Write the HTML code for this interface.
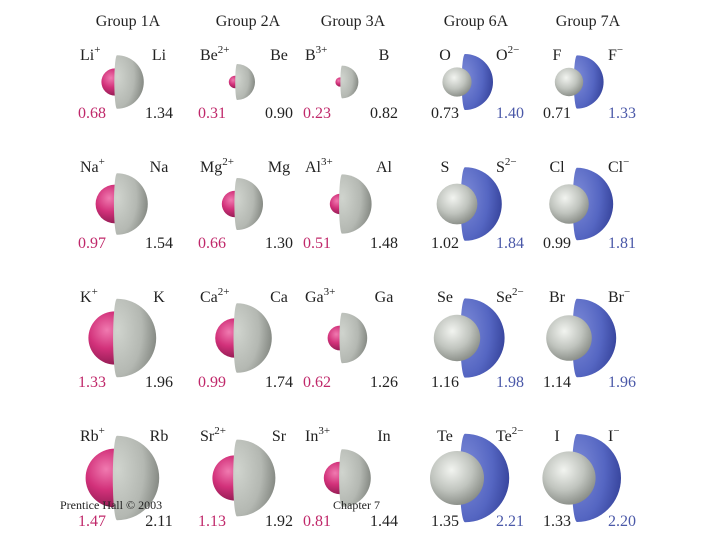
<!DOCTYPE html>
<html><head><meta charset="utf-8"><style>
body{margin:0;background:#fff}
svg{display:block;font-family:"Liberation Serif",serif}
</style></head><body>
<svg id="c" width="720" height="540">
<defs>
<radialGradient id="gMag" cx="0.35" cy="0.35" r="0.7"><stop offset="0" stop-color="#f07ab0"/><stop offset="0.5" stop-color="#d2317a"/><stop offset="1" stop-color="#8e1a50"/></radialGradient>
<radialGradient id="gGray" cx="0.4" cy="0.35" r="0.7"><stop offset="0" stop-color="#f2f4f0"/><stop offset="0.55" stop-color="#c0c4be"/><stop offset="1" stop-color="#858983"/></radialGradient>
<radialGradient id="gBlue" cx="0.1" cy="0.4" r="0.95"><stop offset="0" stop-color="#7d8bd8"/><stop offset="0.6" stop-color="#5566c2"/><stop offset="1" stop-color="#35429a"/></radialGradient>
<radialGradient id="gShell" cx="0.1" cy="0.4" r="0.95"><stop offset="0" stop-color="#d0d4ce"/><stop offset="0.6" stop-color="#b4b8b2"/><stop offset="1" stop-color="#80847e"/></radialGradient>
</defs>
</svg>
<script>
const groups=["Group 1A","Group 2A","Group 3A","Group 6A","Group 7A"];
const atoms=[["Li","Na","K","Rb"],["Be","Mg","Ca","Sr"],["B","Al","Ga","In"],["O","S","Se","Te"],["F","Cl","Br","I"]];
const charges=["+","2+","3+","2−","−"];
const atomRadii=[[1.34,1.54,1.96,2.11],[0.90,1.30,1.74,1.92],[0.82,1.48,1.26,1.44],[0.73,1.02,1.16,1.35],[0.71,0.99,1.14,1.33]];
const ionRadii=[[0.68,0.97,1.33,1.47],[0.31,0.66,0.99,1.13],[0.23,0.51,0.62,0.81],[1.40,1.84,1.98,2.21],[1.33,1.81,1.96,2.20]];
const colX=[117,237,342,465,577];
const rowY=[82,204,338,478];
const labelY=[60,172,302,441];
const numY=[118,248,387,526];
const scale=20;
const svg=document.getElementById('c');
const NS="http://www.w3.org/2000/svg";
function mk(t,a,p){const e=document.createElementNS(NS,t);for(const k in a)e.setAttribute(k,a[k]);(p||svg).appendChild(e);return e;}
function txt(x,y,s,fill,sup,anchor){const t=mk('text',{x:x,y:y,'font-size':16,fill:fill,'text-anchor':anchor||'start'});t.textContent=s;if(sup){const ts=mk('tspan',{dy:-7,'font-size':11},t);ts.textContent=sup;}return t;}
groups.forEach((g,i)=>{const t=txt(colX[i]+11,26,g,'#222',null,'middle');

});
for(let i=0;i<5;i++){const anion=i>=3;
for(let j=0;j<4;j++){
const cx=colX[i],cy=rowY[j];
const ra=atomRadii[i][j]*scale, ri=ionRadii[i][j]*scale;
const cell=mk('g',{});


if(!anion){
const s=mk('circle',{cx:cx-2,cy:cy,r:ri,fill:'url(#gMag)'},cell);


const h=mk('path',{d:`M${cx},${cy-ra} A${ra},${ra} 0 0 1 ${cx},${cy+ra} A${ra*0.1},${ra} 0 0 1 ${cx},${cy-ra} Z`,fill:'url(#gShell)'},cell);


txt(cx-37,labelY[j],atoms[i][j],'#222',charges[i]);
txt(cx+42,labelY[j],atoms[i][j],'#222',null,'middle');
txt(cx-25,numY[j],ionRadii[i][j].toFixed(2),'#c0286a',null,'middle');
txt(cx+42,numY[j],atomRadii[i][j].toFixed(2),'#222',null,'middle');
}else{
const h=mk('path',{d:`M${cx},${cy-ri} A${ri},${ri} 0 0 1 ${cx},${cy+ri} A${ri*0.12},${ri} 0 0 1 ${cx},${cy-ri} Z`,fill:'url(#gBlue)'},cell);


const s=mk('circle',{cx:cx-8,cy:cy,r:ra,fill:'url(#gGray)'},cell);


txt(cx-20,labelY[j],atoms[i][j],'#222',null,'middle');
txt(cx+31,labelY[j],atoms[i][j],'#222',charges[i]);
txt(cx-20,numY[j],atomRadii[i][j].toFixed(2),'#222',null,'middle');
txt(cx+45,numY[j],ionRadii[i][j].toFixed(2),'#4a58a8',null,'middle');
}}}
const f1=mk('text',{x:60,y:509,'font-size':12,fill:'#222'});f1.textContent="Prentice Hall © 2003";


const f2=mk('text',{x:333,y:509,'font-size':12,fill:'#222'});f2.textContent="Chapter 7";


</script>
</body></html>
